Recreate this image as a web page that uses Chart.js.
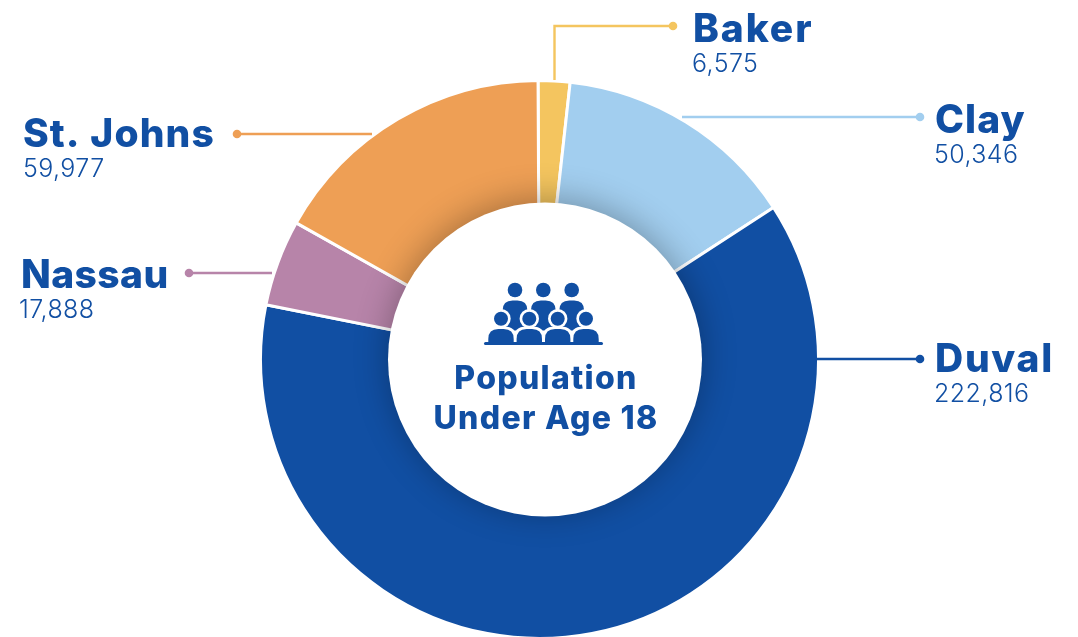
<!DOCTYPE html>
<html>
<head>
<meta charset="utf-8">
<style>html,body{margin:0;padding:0;background:#fff;overflow:hidden;height:637px}canvas{display:block}</style>
<script src="https://cdn.jsdelivr.net/npm/chart.js@4"></script>
</head>
<body>
<canvas id="c" width="1078" height="645"></canvas>
<script>
const counties = ["Baker","Clay","Duval","Nassau","St. Johns"];
const population = [6575,50346,222816,17888,59977];
const sliceColors = ["#F4C55F","#A2CEEF","#114FA3","#B784A9","#EE9F55"];
const centerLines = ["Population","Under Age 18"];
const ink = "#114FA3";
// label layout: name x/baseline, value x/baseline, tracking, callout path
const callouts = [
  {nx:693,ny:42,vx:692,vy:72,ls:1.9,pts:[[673,26],[554.5,26],[554.5,80]]},
  {nx:935,ny:133,vx:934,vy:163,ls:1.05,pts:[[920,117],[682,117]]},
  {nx:935,ny:372,vx:934,vy:402,ls:1.7,pts:[[920,359],[817,359]]},
  {nx:21,ny:288,vx:19,vy:318,ls:0.4,pts:[[189,273],[272,273]]},
  {nx:23,ny:147,vx:23,vy:177,ls:1.1,pts:[[237,134],[372,134]]}
];
const fmt = n => n.toLocaleString("en-US");
const FONT = '"Inter", "Open Sans", sans-serif';

function roundTop(ctx,x,y,w,h,r){
  ctx.beginPath();
  ctx.moveTo(x,y+h);ctx.lineTo(x,y+r);
  ctx.quadraticCurveTo(x,y,x+r,y);
  ctx.lineTo(x+w-r,y);
  ctx.quadraticCurveTo(x+w,y,x+w,y+r);
  ctx.lineTo(x+w,y+h);ctx.closePath();
}
function drawIcon(ctx){
  const backX=[515,543.3,571.7], frontX=[501,529.3,557.7,586];
  ctx.fillStyle=ink;
  backX.forEach(x=>{
    ctx.beginPath();ctx.arc(x,290,7.3,0,Math.PI*2);ctx.fill();
    roundTop(ctx,x-12.4,300.5,24.8,30,10);ctx.fill();
  });
  ctx.fillStyle="#fff";
  frontX.forEach(x=>{
    ctx.beginPath();ctx.arc(x,318.7,9.7,0,Math.PI*2);ctx.fill();
    roundTop(ctx,x-15.3,326.5,30.6,17,12);ctx.fill();
  });
  ctx.fillStyle=ink;
  frontX.forEach(x=>{
    ctx.beginPath();ctx.arc(x,318.7,7,0,Math.PI*2);ctx.fill();
    roundTop(ctx,x-12.7,329,25.4,14,10);ctx.fill();
  });
  ctx.beginPath();ctx.roundRect(484,342,119,3,1.5);ctx.fill();
}
const overlay = {
  id:"overlay",
  afterDatasetsDraw(chart){
    const ctx=chart.ctx;
    ctx.save();
    ctx.shadowColor="rgba(0,0,0,0.30)";
    ctx.shadowBlur=34;
    ctx.shadowOffsetY=-4;
    ctx.fillStyle="#fff";
    ctx.beginPath();ctx.arc(545,359.5,157,0,Math.PI*2);ctx.fill();
    ctx.shadowColor="transparent";ctx.shadowBlur=0;ctx.shadowOffsetY=0;
    drawIcon(ctx);
    ctx.fillStyle=ink;
    ctx.textAlign="center";ctx.textBaseline="alphabetic";
    ctx.font='800 32px '+FONT;
    ctx.letterSpacing="1.3px";
    ctx.fillText(centerLines[0],546,389);
    ctx.fillText(centerLines[1],546,429);
    ctx.textAlign="left";
    callouts.forEach((c,i)=>{
      const col=sliceColors[i];
      ctx.strokeStyle=col;ctx.lineWidth=2.4;
      ctx.beginPath();
      c.pts.forEach((p,j)=>j?ctx.lineTo(p[0],p[1]):ctx.moveTo(p[0],p[1]));
      ctx.stroke();
      ctx.fillStyle=col;
      ctx.beginPath();ctx.arc(c.pts[0][0],c.pts[0][1],4.3,0,Math.PI*2);ctx.fill();
      ctx.fillStyle=ink;
      ctx.font='800 39px '+FONT;
      ctx.letterSpacing=c.ls+"px";
      ctx.fillText(counties[i],c.nx,c.ny);
      ctx.font='300 25px '+FONT;
      ctx.letterSpacing="0.4px";
      ctx.fillText(fmt(population[i]),c.vx,c.vy);
    });
    ctx.restore();
  }
};
new Chart(document.getElementById("c"),{
  type:"doughnut",
  data:{labels:counties,datasets:[{data:population,backgroundColor:sliceColors,borderColor:"#fff",borderWidth:3,hoverOffset:0}]},
  options:{
    responsive:false,animation:false,cutout:"50%",rotation:-0.3,
    layout:{padding:{left:259,right:258,top:79,bottom:5}},
    plugins:{legend:{display:false},tooltip:{enabled:false}}
  },
  plugins:[overlay]
});
</script>
</body>
</html>
